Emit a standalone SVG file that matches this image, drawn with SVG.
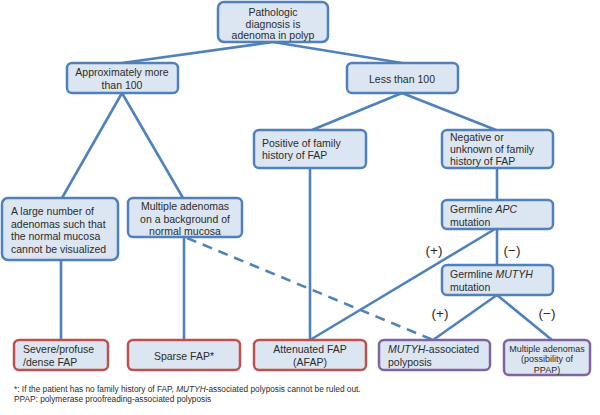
<svg xmlns="http://www.w3.org/2000/svg" width="600" height="415" viewBox="0 0 600 415">
<style>
.n{fill:#dce6f2;stroke:#4f81bd;stroke-width:2.5}
.r{fill:#dce6f2;stroke:#c0504d;stroke-width:2.5}
.p{fill:#dce6f2;stroke:#8064a2;stroke-width:2.5}
text{font-family:"Liberation Sans",Arial,sans-serif;font-size:10.5px;fill:#2b2b2b}
.c{text-anchor:middle}
.s{font-size:9px}
.pm{font-size:13.5px}
.f{font-size:8.3px}
#connectors line{stroke:#4f81bd;stroke-width:2.6}
</style>
<rect width="600" height="415" fill="#fff"/>
<g id="connectors">
<line x1="273" y1="42" x2="122" y2="63"/>
<line x1="273" y1="42" x2="402" y2="63"/>
<line x1="122" y1="93" x2="62" y2="198"/>
<line x1="122" y1="93" x2="183" y2="198"/>
<line x1="402" y1="93" x2="312" y2="130"/>
<line x1="402" y1="93" x2="496" y2="130"/>
<line x1="61" y1="260" x2="61" y2="340"/>
<line x1="184" y1="237" x2="184" y2="340"/>
<line x1="310" y1="168" x2="310" y2="340"/>
<line x1="497" y1="168" x2="497" y2="200"/>
<line x1="497" y1="229" x2="497" y2="265"/>
<line x1="495" y1="229" x2="310" y2="340"/>
<line x1="497" y1="295" x2="433" y2="340"/>
<line x1="497" y1="295" x2="552" y2="340"/>
<line x1="187" y1="238" x2="433" y2="340" stroke-dasharray="10,7"/>
</g>
<g id="n_top"><rect class="n" x="218" y="2" width="110" height="40" rx="6"/>
<text class="c" x="273" y="16">Pathologic</text><text class="c" x="273" y="27.5">diagnosis is</text><text class="c" x="273" y="39">adenoma in polyp</text></g>
<g id="n_more"><rect class="n" x="67" y="63" width="111" height="30" rx="5"/>
<text class="c" x="122" y="76">Approximately more</text><text class="c" x="122" y="89">than 100</text></g>
<g id="n_less"><rect class="n" x="347" y="63" width="111" height="30" rx="5"/>
<text class="c" x="402" y="83">Less than 100</text></g>
<g id="n_pos"><rect class="n" x="254" y="130" width="112" height="38" rx="5"/>
<text x="262" y="147">Positive of family</text><text x="262" y="159">history of FAP</text></g>
<g id="n_neg"><rect class="n" x="442" y="130" width="111" height="38" rx="5"/>
<text x="450" y="141">Negative or</text><text x="450" y="153">unknown of family</text><text x="450" y="165">history of FAP</text></g>
<g id="n_large"><rect class="n" x="2" y="198" width="116" height="62" rx="6"/>
<text x="11" y="215">A large number of</text><text x="11" y="227.5">adenomas such that</text><text x="11" y="240">the normal mucosa</text><text x="11" y="253">cannot be visualized</text></g>
<g id="n_multi"><rect class="n" x="128" y="198" width="114" height="39" rx="5"/>
<text class="c" x="185" y="210">Multiple adenomas</text><text class="c" x="185" y="222.5">on a background of</text><text class="c" x="185" y="235">normal mucosa</text></g>
<g id="n_apc"><rect class="n" x="442" y="200" width="111" height="29" rx="5"/>
<text x="450" y="213">Germline <tspan font-style="italic">APC</tspan></text><text x="450" y="226">mutation</text></g>
<g id="n_mutyh"><rect class="n" x="442" y="265" width="111" height="30" rx="5"/>
<text x="450" y="278">Germline <tspan font-style="italic">MUTYH</tspan></text><text x="450" y="291">mutation</text></g>
<g id="labels">
<text class="c pm" x="434" y="255">(+)</text><text class="c pm" x="512" y="255">(−)</text>
<text class="c pm" x="440" y="318">(+)</text><text class="c pm" x="547" y="318">(−)</text>
</g>
<g id="n_severe"><rect class="r" x="14" y="340" width="94" height="30" rx="5"/>
<text x="23" y="353">Severe/profuse</text><text x="23" y="366">/dense FAP</text></g>
<g id="n_sparse"><rect class="r" x="128" y="340" width="112" height="30" rx="5"/>
<text class="c" x="184" y="360">Sparse FAP*</text></g>
<g id="n_afap"><rect class="r" x="254" y="340" width="112" height="30" rx="5"/>
<text class="c" x="310" y="353">Attenuated FAP</text><text class="c" x="310" y="366">(AFAP)</text></g>
<g id="n_map"><rect class="p" x="379" y="340" width="111" height="30" rx="5"/>
<text x="388" y="353"><tspan font-style="italic">MUTYH</tspan>-associated</text><text x="388" y="366">polyposis</text></g>
<g id="n_ppap"><rect class="p" x="504" y="340" width="86" height="35" rx="5"/>
<text class="c s" x="547" y="351.5">Multiple adenomas</text><text class="c s" x="547" y="362">(possibility of</text><text class="c s" x="547" y="372.5">PPAP)</text></g>
<g id="footnote">
<text class="f" x="14" y="392">*: If the patient has no family history of FAP, <tspan font-style="italic">MUTYH</tspan>-associated polyposis cannot be ruled out.</text>
<text class="f" x="14" y="402">PPAP: polymerase proofreading-associated polyposis</text>
</g>
</svg>
